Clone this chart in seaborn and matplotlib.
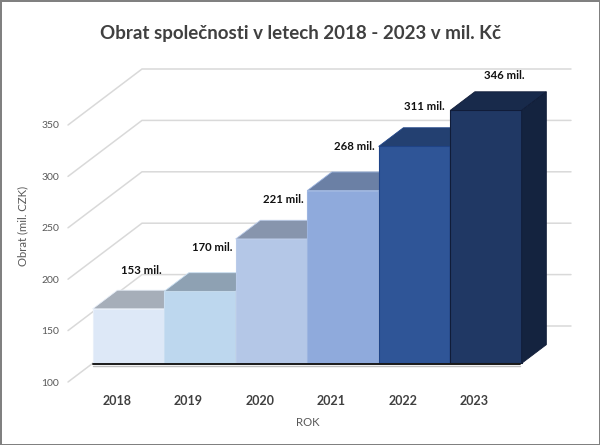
import matplotlib
matplotlib.use("Agg")
import matplotlib.pyplot as plt
import matplotlib.colors as mcolors
from matplotlib.patches import Polygon
import numpy as np
import pandas as pd
import seaborn as sns

# --- data ---
roky = ["2018", "2019", "2020", "2021", "2022", "2023"]
obrat = [153, 170, 221, 268, 311, 346]
popisky = ["153 mil.", "170 mil.", "221 mil.", "268 mil.", "311 mil.", "346 mil."]
y_ticks = [100, 150, 200, 250, 300, 350]

# --- styles ---
barvy = ["#DDE8F7", "#BDD7EE", "#B4C7E7", "#8FAADC", "#2F5597", "#203864"]
okraje = ["#E8EFF9", "#C9DEF1", "#BACBE9", "#9DB5E0", "#1F4488", "#101C38"]
# posun popisku vuci zadni horni hrane sloupce (px)
popisek_dx = [-12, -12, -13, -13, -15, -6]
popisek_dy = [20, 25, 21, 25, 21, 16]

sns.set_style("white")
plt.rcParams["font.family"] = ["Lato", "DejaVu Sans"]

W, H = 600, 445
fig = plt.figure(figsize=(W / 100, H / 100), dpi=100, facecolor="white")
fig.patch.set_edgecolor("#808080")
fig.patch.set_linewidth(2)

# predni rovina grafu: x 68-497 px, y 125-382 px
ax = fig.add_axes([68 / W, (H - 382) / H, 429 / W, 257 / H])
df = pd.DataFrame({"rok": roky, "obrat": obrat})
sns.barplot(data=df, x="rok", y="obrat", hue="rok", palette=barvy, width=1, gap=0,
            saturation=1, legend=False, ax=ax, zorder=3)

ax.set_xlim(-0.5, 5.5)
ax.set_ylim(100, 350)

# hloubka 3D v jednotkach dat
DX = 74 / (429 / 6)
DY = 56 / (257 / 250)
T1, T2 = 1 / 3, 2 / 3

# mrizka: bocni stena + zadni stena
for v in y_ticks:
    ax.plot([-0.5, -0.5 + DX, 5.5 + DX], [v, v + DY, v + DY], color="#D9D9D9", lw=1.1,
            clip_on=False, zorder=1, solid_joinstyle="miter")


def ztmavit(barva, k):
    return tuple(c * k for c in mcolors.to_rgb(barva))


# sloupce posunute do hloubky, s horni a bocni stenou
for i, (patch, v) in enumerate(zip(ax.patches, obrat)):
    x0 = i - 0.5 + T1 * DX
    x1 = x0 + 1
    y0 = 100 + T1 * DY
    y1 = v + T1 * DY
    z = 3 + i
    patch.set_x(x0)
    patch.set_y(y0)
    patch.set_height(v - 100)
    patch.set_clip_on(False)
    patch.set_zorder(z)
    patch.set_edgecolor(okraje[i])
    patch.set_linewidth(0.8)

    dx, dy = (T2 - T1) * DX, (T2 - T1) * DY
    ax.add_patch(Polygon([(x0, y1), (x1, y1), (x1 + dx, y1 + dy), (x0 + dx, y1 + dy)],
                         facecolor=ztmavit(barvy[i], 0.75), edgecolor=okraje[i], lw=0.6,
                         clip_on=False, zorder=z))
    ax.add_patch(Polygon([(x1, y0), (x1 + dx, y0 + dy), (x1 + dx, y1 + dy), (x1, y1)],
                         facecolor=ztmavit(barvy[i], 0.63), edgecolor=okraje[i], lw=0.6,
                         clip_on=False, zorder=z))

    ax.annotate(popisky[i], xy=(i + T2 * DX, v + T2 * DY),
                xytext=(popisek_dx[i] * 0.72, popisek_dy[i] * 0.72), textcoords="offset points",
                ha="center", va="center", fontsize=8.2, fontweight="bold", color="#111111",
                annotation_clip=False, zorder=20)

# cerna cara u zakladny
yb = 100 + T1 * DY - 1
xb0, xb1 = -0.5 + T1 * DX, 5.5 + T1 * DX
ax.plot([xb0, xb1 - 0.03], [yb - 1.2, yb - 1.2], color="#BFBFBF", lw=1, clip_on=False, zorder=15)
ax.plot([xb0, xb1 - 0.03], [yb, yb], color="#1A1A1A", lw=1.4, clip_on=False, zorder=16)

# osy a texty
sns.despine(ax=ax, left=True, bottom=True)
ax.set_yticks(y_ticks)
ax.set_xticks(np.arange(6) + 0.18, roky)
ax.tick_params(axis="y", length=0, pad=6.5, labelsize=7.5, labelcolor="#595959")
ax.tick_params(axis="x", length=0, pad=9.5, labelsize=9, labelcolor="#404040")
for t in ax.get_xticklabels():
    t.set_fontweight("bold")

ax.set_xlabel("")
ax.set_ylabel("")
fig.text(23 / W, 1 - 226 / H, "Obrat (mil. CZK)", rotation=90, ha="center", va="center",
         fontsize=8.2, color="#595959")
fig.text(308 / W, 1 - 423 / H, "ROK", ha="center", va="center", fontsize=8.2, color="#595959")
fig.text(300 / W, 1 - 33 / H, "Obrat společnosti v letech 2018 - 2023 v mil. Kč", ha="center",
         va="center", fontsize=13.5, fontweight="bold", color="#404040")

fig.savefig("out.png", dpi=100, facecolor="white", edgecolor="#808080")
